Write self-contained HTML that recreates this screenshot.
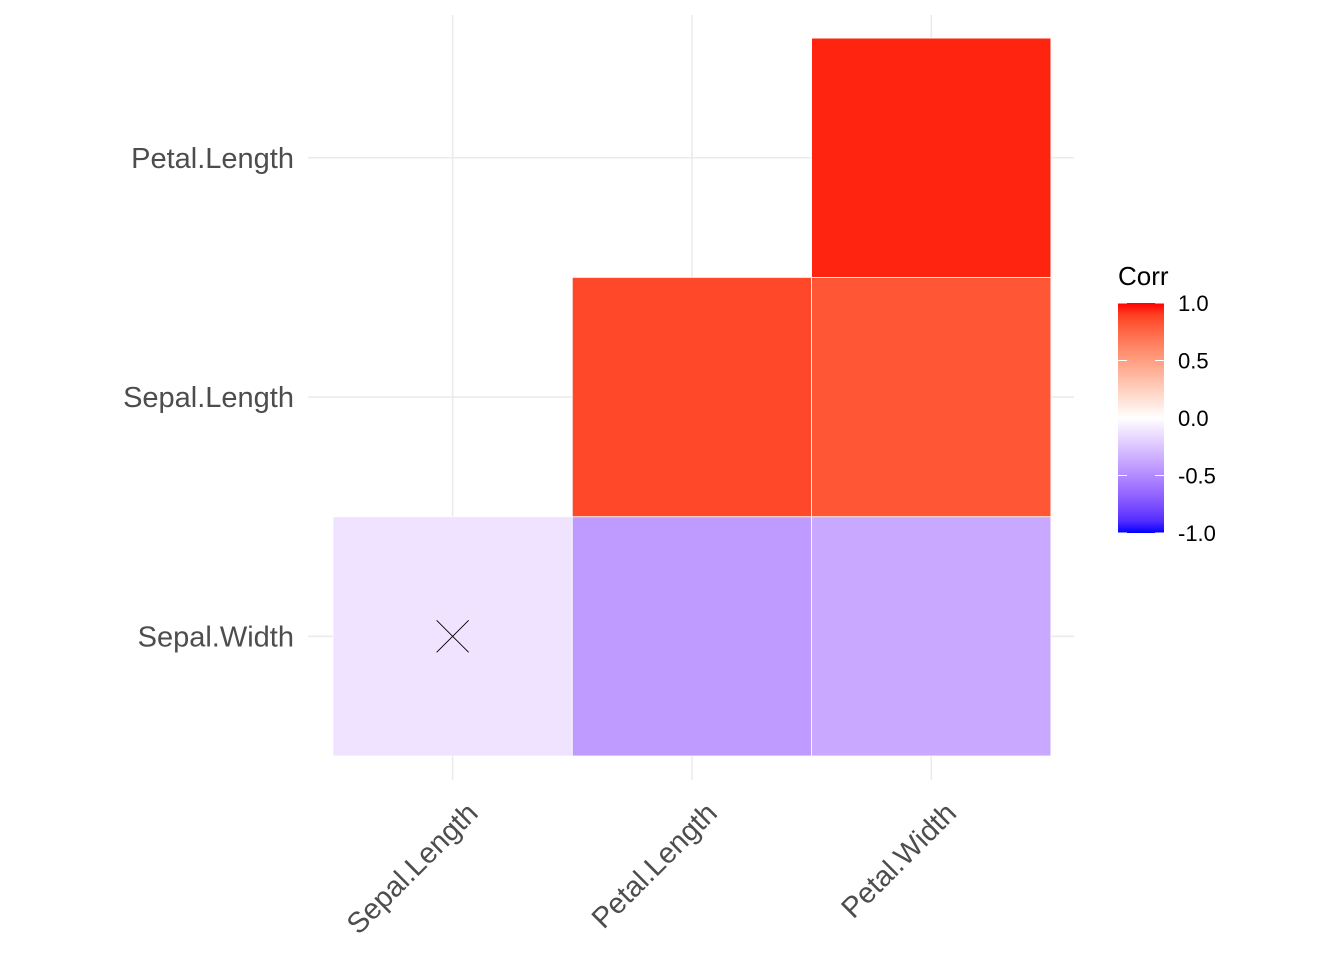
<!DOCTYPE html>
<html><head><meta charset="utf-8"><style>
html,body{margin:0;padding:0;background:#fff;}
svg{display:block;font-family:"Liberation Sans",Arial,sans-serif;}
</style></head><body>
<svg id="chart" width="1344" height="960">
<defs>
<linearGradient id="lg" x1="0" y1="1" x2="0" y2="0"></linearGradient>
</defs>
<g id="grid"></g>
<g id="tiles"></g>
<g id="labels"></g>
<g id="legend"></g>
</svg>
<script>
const xCats = ["Sepal.Length","Petal.Length","Petal.Width"];
const yCats = ["Sepal.Width","Sepal.Length","Petal.Length"];
const cellX = ["Sepal.Length","Petal.Length","Petal.Width","Petal.Length","Petal.Width","Petal.Width"];
const cellY = ["Sepal.Width","Sepal.Width","Sepal.Width","Sepal.Length","Sepal.Length","Petal.Length"];
const cellV = [-0.12,-0.43,-0.37,0.87,0.82,0.96];
const cellInsig = [true,false,false,false,false,false];
const legendTicks = [1.0,0.5,0.0,-0.5,-1.0];
const legendTickLabels = ["1.0","0.5","0.0","-0.5","-1.0"];

const NS="http://www.w3.org/2000/svg";
function mk(t,a,p){const e=document.createElementNS(NS,t);for(const k in a)e.setAttribute(k,a[k]);p.appendChild(e);return e;}
const step=239.3, x0=333, yBottom=756;
function xPos(c){return x0+(xCats.indexOf(c)+0.5)*step;}
function yPos(c){return yBottom-(yCats.indexOf(c)+0.5)*step;}
function lgY(v){return 418-v*115;}

// Lab interpolation
function lin(c){c/=255;return c<=0.04045?c/12.92:Math.pow((c+0.055)/1.055,2.4);}
function unlin(c){c=c<=0.0031308?12.92*c:1.055*Math.pow(c,1/2.4)-0.055;return Math.max(0,Math.min(255,Math.round(c*255)));}
function toLab(r,g,b){r=lin(r);g=lin(g);b=lin(b);
let X=(r*0.4124+g*0.3576+b*0.1805)/0.95047,Y=(r*0.2126+g*0.7152+b*0.0722),Z=(r*0.0193+g*0.1192+b*0.9505)/1.08883;
const f=t=>t>0.008856?Math.cbrt(t):7.787*t+16/116;X=f(X);Y=f(Y);Z=f(Z);return [116*Y-16,500*(X-Y),200*(Y-Z)];}
function fromLab(L,a,b){let Y=(L+16)/116,X=a/500+Y,Z=Y-b/200;const fi=t=>t*t*t>0.008856?t*t*t:(t-16/116)/7.787;
X=fi(X)*0.95047;Y=fi(Y);Z=fi(Z)*1.08883;
const r=X*3.2406+Y*-1.5372+Z*-0.4986,g=X*-0.9689+Y*1.8758+Z*0.0415,bb=X*0.0557+Y*-0.2040+Z*1.0570;
return "rgb("+unlin(r)+","+unlin(g)+","+unlin(bb)+")";}
const BL=toLab(0,0,255),WH=toLab(255,255,255),RD=toLab(255,0,0);
function col(v){const a=v<0?BL:RD;const t=Math.abs(v);return fromLab(WH[0]+(a[0]-WH[0])*t,WH[1]+(a[1]-WH[1])*t,WH[2]+(a[2]-WH[2])*t);}

const grid=document.getElementById('grid');
xCats.forEach(c=>{const l=mk('line',{x1:xPos(c),x2:xPos(c),y1:15,y2:780,stroke:'#EBEBEB','stroke-width':1.6},grid);

});
yCats.forEach(c=>{const l=mk('line',{x1:308,x2:1074,y1:yPos(c),y2:yPos(c),stroke:'#EBEBEB','stroke-width':1.6},grid);

});

const tiles=document.getElementById('tiles');
cellV.forEach((v,i)=>{const cx=xPos(cellX[i]),cy=yPos(cellY[i]);
const r=mk('rect',{x:cx-step/2,y:cy-step/2,width:step,height:step,fill:col(v),stroke:'#fff','stroke-width':0.8},tiles);


if(cellInsig[i]){const g=mk('path',{d:`M${cx-16},${cy-16}L${cx+16},${cy+16}M${cx+16},${cy-16}L${cx-16},${cy+16}`,stroke:'#000','stroke-width':0.9,fill:'none'},tiles);

}});

const labels=document.getElementById('labels');
yCats.forEach(c=>{const t=mk('text',{x:294,y:yPos(c)+10,'text-anchor':'end','font-size':29,fill:'#4D4D4D'},labels);t.textContent=c;

});
xCats.forEach(c=>{const x=xPos(c)+12,y=800;
const t=mk('text',{x:x,y:y,'text-anchor':'end','font-size':29,fill:'#4D4D4D',transform:`rotate(-45 ${x} ${y}) translate(0 ${21})`},labels);t.textContent=c;

});

const lg=document.getElementById('lg');
for(let i=0;i<=20;i++){const v=-1+i*0.1;mk('stop',{offset:(i/20),'stop-color':col(v)},lg);}
const leg=document.getElementById('legend');
const tt=mk('text',{x:1118,y:285,'font-size':26,fill:'#000'},leg);tt.textContent="Corr";


const bar=mk('rect',{x:1118,y:lgY(1),width:46,height:lgY(-1)-lgY(1),fill:'url(#lg)'},leg);


legendTicks.forEach((v,i)=>{const y=lgY(v);
mk('line',{x1:1118,x2:1127,y1:y,y2:y,stroke:'#fff','stroke-width':1},leg);
mk('line',{x1:1155,x2:1164,y1:y,y2:y,stroke:'#fff','stroke-width':1},leg);
const t=mk('text',{x:1178,y:y+8,'font-size':22,fill:'#000'},leg);t.textContent=legendTickLabels[i];

});
</script>
</body></html>
